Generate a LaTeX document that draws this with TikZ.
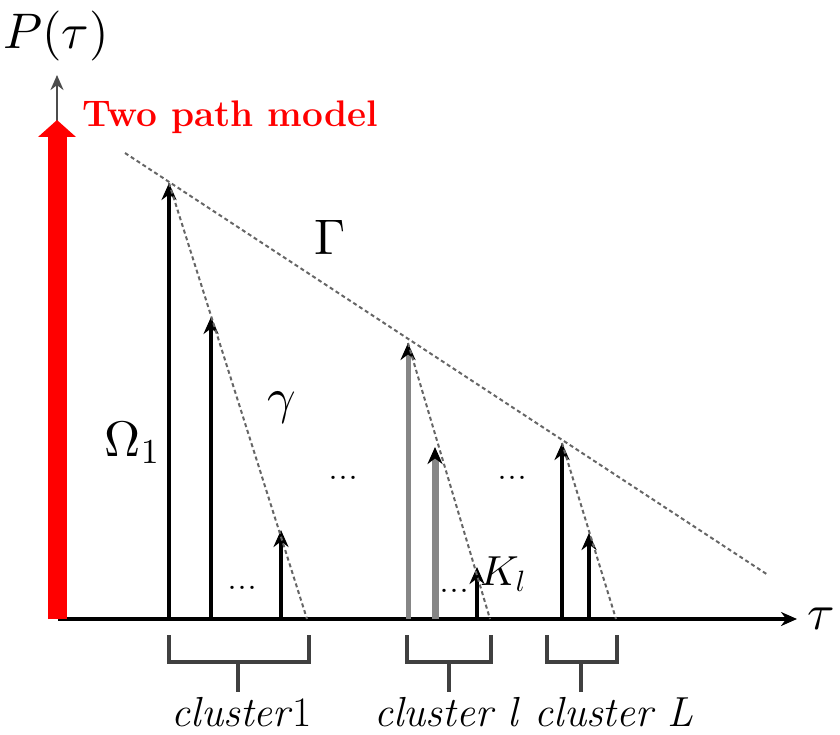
\documentclass[tikz,border=0pt]{standalone}
\usetikzlibrary{arrows.meta,positioning}
\DeclareFontShape{OML}{cmm}{m}{it}{<->cmmi10}{}
\DeclareFontShape{OT1}{cmr}{m}{n}{<->cmr10}{}
\DeclareFontShape{OMS}{cmsy}{m}{n}{<->cmsy10}{}
\DeclareFontShape{OMX}{cmex}{m}{n}{<->cmex10}{}
\colorlet{spikeGray}{gray!95}
\colorlet{envGray}{gray!80!black}
\colorlet{braceGray}{black!75}
\colorlet{modelRed}{red}

\begin{document}
\begin{tikzpicture}[x=1pt, y=-1pt,
    every node/.style={inner sep=0pt, outer sep=0pt},
    spike/.style={-{Stealth[length=17pt,width=15pt,color=black]}, line width=3.8pt},
    graySpike/.style={spike, draw=spikeGray},
    envelope/.style={draw=envGray, line width=2pt, dash pattern=on 4pt off 3pt},
    bracket/.style={draw=braceGray, line width=3.5pt},
    big/.style={font=\fontsize{50}{56}\selectfont},
    mid/.style={font=\fontsize{42}{48}\selectfont},
    dots/.style={font=\fontsize{40}{42}\selectfont}]
    \useasboundingbox (0,0) rectangle (840,735);

    % axes
    \coordinate (origin) at (57,619);
    \coordinate (yTop) at (57,75);
    \coordinate (xEnd) at (797,619);
    \coordinate (redTop) at (57,120);
    \draw[-{Stealth[length=15pt,width=13pt]}, line width=2.5pt, gray!60!black] (origin) -- (yTop);
    \draw[-{Stealth[length=16pt,width=14pt]}, line width=4pt] ([xshift=1pt]origin) -- (xEnd);
    \draw[-{Triangle[length=17pt,width=37pt]}, line width=19pt, modelRed] (origin) -- (redTop);
    \node[big, anchor=center] (pTau) at (56,36) {$P(\tau)$};
    \node[big, right=10pt of xEnd] (tau) {$\tau$};
    \node[font=\fontsize{37}{44}\selectfont\bfseries, text=modelRed, anchor=base west] (title) at (82,127) {Two path model};

    % cluster 1
    \coordinate (a1) at (169,619); \coordinate (a1t) at (169,183);
    \coordinate (a2) at (211,619); \coordinate (a2t) at (211,317);
    \coordinate (a3) at (281,619); \coordinate (a3t) at (281,530);
    \coordinate (g1) at (307,619);
    \draw[spike] (a1) -- (a1t);
    \draw[spike] (a2) -- (a2t);
    \draw[spike] (a3) -- (a3t);
    \draw[envelope] (a1t) -- (g1);

    % cluster l
    \coordinate (b1) at (408,619); \coordinate (b1t) at (408,343);
    \coordinate (b2) at (435,619); \coordinate (b2t) at (435,447);
    \coordinate (b3) at (477,619); \coordinate (b3t) at (477,567);
    \coordinate (g2) at (490,619);
    \draw[graySpike, line width=5pt] (b1) -- (b1t);
    \draw[graySpike, line width=7pt] (b2) -- (b2t);
    \draw[spike] (b3) -- (b3t);
    \draw[envelope] (b1t) -- (g2);

    % cluster L
    \coordinate (c1) at (562,619); \coordinate (c1t) at (562,443);
    \coordinate (c2) at (589,619); \coordinate (c2t) at (589,533);
    \coordinate (g3) at (616,619);
    \draw[spike] (c1) -- (c1t);
    \draw[spike] (c2) -- (c2t);
    \draw[envelope] (c1t) -- (g3);

    % Gamma envelope
    \coordinate (envStart) at (125,153);
    \coordinate (envEnd) at (768,575);
    \draw[envelope] (envStart) -- (envEnd);

    % labels
    \node[big] (Gamma) at (330,237) {$\Gamma$};
    \node[big] (gamma) at (282,408) {$\gamma$};
    \node[big] (omega) at (132,443) {$\Omega_1$};
    \node[mid] (kl) at (503,574) {$K_l$};
    \node[dots] (dotsA) at (343,478) {...};
    \node[dots] (dotsB) at (512,478) {...};
    \node[dots] (dotsC) at (242,588) {...};
    \node[dots] (dotsD) at (454,591) {...};

    % brackets
    \foreach \nm/\l/\s/\r in {one/169/238/309, small/407/449/491, large/547/581/617} {
        \coordinate (\nm L) at (\l,635);
        \coordinate (\nm R) at (\r,635);
        \coordinate (\nm S) at (\s,662);
        \coordinate (\nm B) at (\s,692);
        \draw[bracket] (\nm L) -- (\l,662) -- (\r,662) -- (\nm R);
        \draw[bracket] (\nm S) -- (\nm B);
    }
    \node[mid, anchor=base] (clOne) at (242,726) {\textit{cluster}1};
    \node[mid, anchor=base] (clSmall) at (447,726) {\textit{cluster l}};
    \node[mid, anchor=base] (clLarge) at (614,726) {\textit{cluster L}};
\end{tikzpicture}
\end{document}
